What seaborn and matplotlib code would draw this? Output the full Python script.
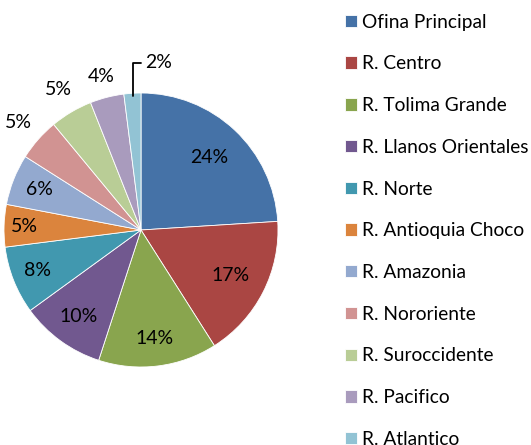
import numpy as np
import seaborn as sns
import matplotlib.pyplot as plt

# data
regions = ["Ofina Principal", "R. Centro", "R. Tolima Grande", "R. Llanos Orientales",
           "R. Norte", "R. Antioquia Choco", "R. Amazonia", "R. Nororiente",
           "R. Suroccidente", "R. Pacifico", "R. Atlantico"]
shares = [24, 17, 14, 10, 8, 5, 6, 5, 5, 4, 2]

colors = ["#4572A7", "#AA4643", "#89A54E", "#71588F", "#4198AF", "#DB843D",
          "#93A9CF", "#D19392", "#B9CD96", "#A99BBD", "#92C3D4"]

sns.set_style("white")
plt.rcParams['font.family'] = ['Lato', 'DejaVu Sans']
plt.rcParams['text.color'] = 'black'

W, H = 531, 445
fig = plt.figure(figsize=(W / 100, H / 100), dpi=100)
# pie: centre (141, 230) px, radius 137 px
ax = fig.add_axes([(141 - 137) / W, (H - 230 - 137) / H, 274 / W, 274 / H])

wedges, _ = ax.pie(shares, colors=sns.color_palette(colors), startangle=90,
                   counterclock=False, radius=1,
                   wedgeprops=dict(edgecolor="white", linewidth=0.6))
ax.set_xlim(-1, 1)
ax.set_ylim(-1, 1)
ax.set_aspect("equal")
ax.axis("off")

# label radius for each slice (inside / outside the pie)
label_r = [0.73, 0.73, 0.80, 0.78, 0.81, 0.85, 0.80, 1.19, 1.19, 1.16, None]
for w, v, r in zip(wedges, shares, label_r):
    mid = np.deg2rad((w.theta1 + w.theta2) / 2)
    if r is None:
        # leader line for the smallest slice
        x0, y0 = 0.98 * np.cos(mid), 0.98 * np.sin(mid)
        ty = 1.22
        ax.plot([x0, x0, x0 + 0.06], [y0, ty, ty], color="black", lw=1.3,
                clip_on=False)
        ax.text(x0 + 0.09, ty, f"{v}%", ha="left", va="center", fontsize=14)
    else:
        ax.text(r * np.cos(mid), r * np.sin(mid), f"{v}%", ha="center",
                va="center", fontsize=14)

fig.legend(wedges, regions, loc="upper left", bbox_to_anchor=(337 / W, 1 - 6 / H),
           frameon=False, fontsize=13.8, handlelength=0.62, handleheight=0.62,
           handletextpad=0.3, labelspacing=1.29, borderaxespad=0)

fig.savefig("out.png", dpi=100)
